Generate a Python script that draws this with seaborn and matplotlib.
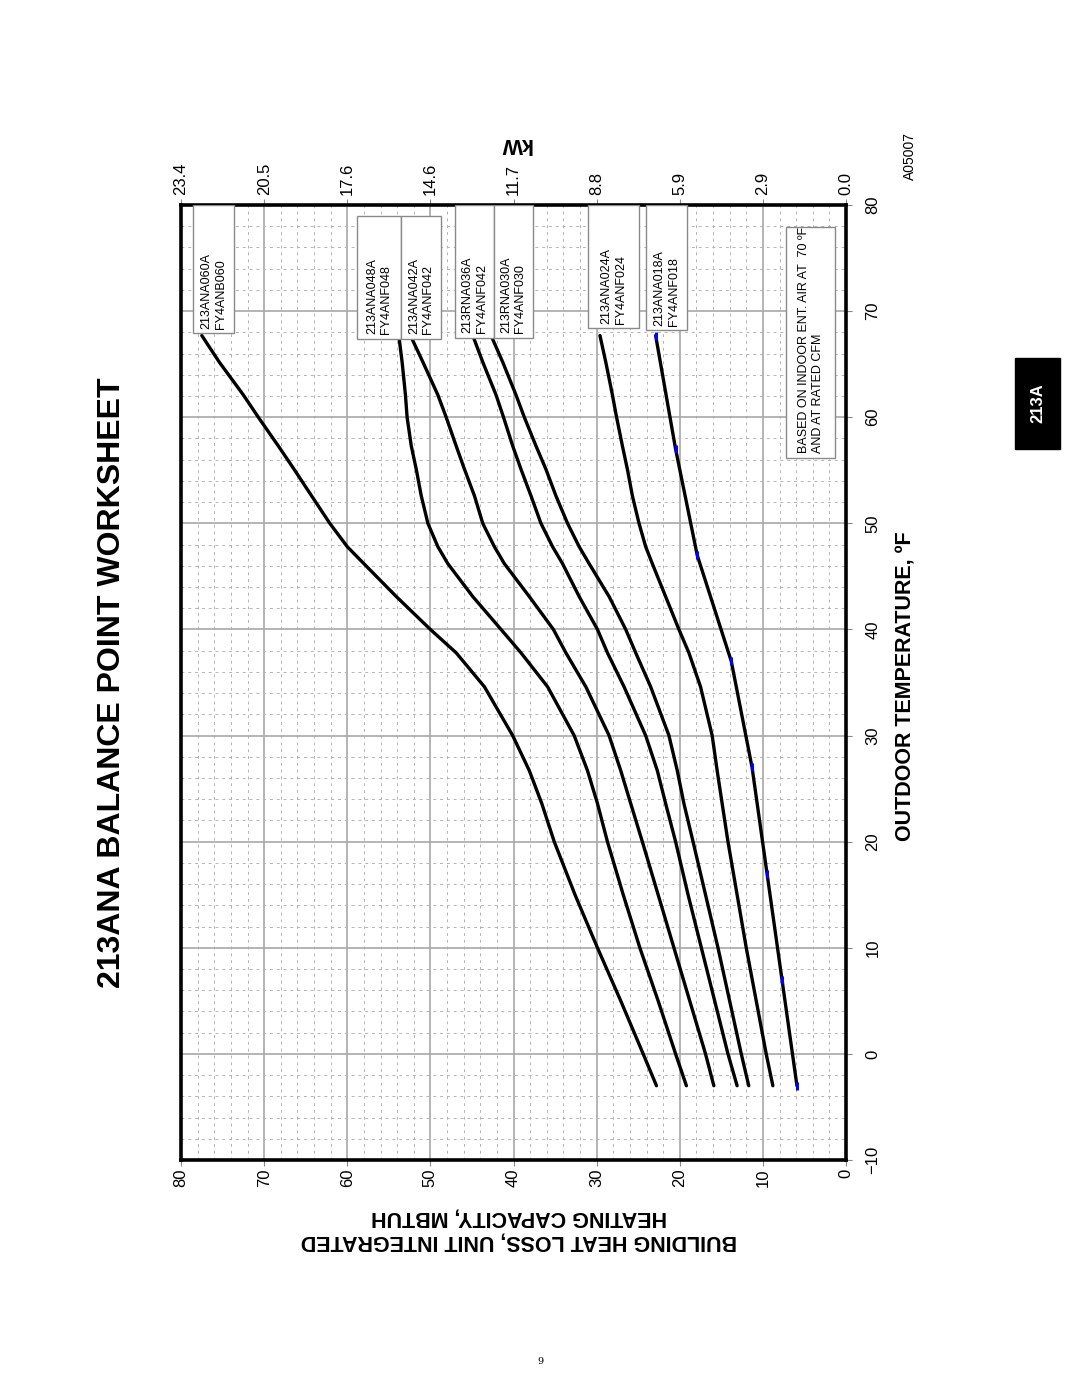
import numpy as np
import pandas as pd
import matplotlib
matplotlib.use("Agg")
import matplotlib.pyplot as plt
from matplotlib.patches import Rectangle
import seaborn as sns

# ---------------- data ----------------
temp_common = [-3, 0, 5, 10, 15, 20, 23.6, 26.7, 30, 34.6, 37.8, 40, 43.1,
               46.2, 47.8, 50, 52.6, 55.1, 57.3, 60, 62.1, 65.2, 67.7]
cap_060 = [22.8, 24.4, 27.1, 29.9, 32.6, 35.1, 36.6, 38.1, 40.1, 43.5, 46.9, 50.0,
           54.1, 58.0, 60.0, 62.1, 64.3, 66.4, 68.3, 70.7, 72.5, 75.4, 77.5]
cap_048 = [19.2, 20.5, 22.6, 24.8, 26.8, 28.7, 29.9, 31.1, 32.7, 35.9, 39.1, 41.5,
           44.9, 47.9, 49.1, 50.3, 51.1, 51.7, 52.3, 52.8, 53.0, 53.4, 53.8]
cap_042 = [15.9, 16.9, 18.8, 20.7, 22.6, 24.5, 25.9, 27.1, 28.5, 31.3, 33.7, 35.2,
           38.1, 41.1, 42.3, 43.7, 44.7, 45.9, 46.9, 48.1, 49.1, 50.9, 52.4]
cap_036 = [13.1, 14.2, 15.8, 17.4, 19.0, 20.5, 21.7, 22.7, 24.1, 26.7, 28.7, 29.9,
           32.1, 34.1, 35.3, 36.7, 37.9, 39.1, 40.1, 41.2, 42.1, 43.7, 44.9]
cap_030 = [11.7, 12.6, 14.0, 15.4, 16.9, 18.4, 19.5, 20.3, 21.3, 23.5, 25.3, 26.5,
           28.5, 30.9, 32.1, 33.5, 34.9, 36.1, 37.3, 38.7, 39.7, 41.3, 42.7]
cap_024 = [8.8, 9.6, 10.8, 12.0, 13.1, 14.2, 14.9, 15.5, 16.1, 17.5, 18.9, 20.1,
           21.7, 23.3, 24.1, 24.9, 25.7, 26.3, 26.9, 27.6, 28.1, 28.9, 29.6]
temp_018 = [-3, 7, 17, 27, 37, 47, 57, 67.7]
cap_018 = [5.9, 7.7, 9.5, 11.3, 13.8, 17.9, 20.5, 22.9]

models = ["060", "048", "042", "036", "030", "024", "018"]
box_line1 = ["213ANA060A", "213ANA048A", "213ANA042A", "213RNA036A",
             "213RNA030A", "213ANA024A", "213ANA018A"]
box_line2 = ["FY4ANB060", "FY4ANF048", "FY4ANF042", "FY4ANF042",
             "FY4ANF030", "FY4ANF024", "FY4ANF018"]

mbtuh_ticks = [0, 10, 20, 30, 40, 50, 60, 70, 80]
temp_ticks = [-10, 0, 10, 20, 30, 40, 50, 60, 70, 80]
kw_labels = ["0.0", "2.9", "5.9", "8.8", "11.7", "14.6", "17.6", "20.5", "23.4"]

title = "213ANA BALANCE POINT WORKSHEET"
note = "BASED ON INDOOR ENT. AIR AT  70 ºF\nAND AT RATED CFM"

# ---------------- build table ----------------
caps = {"060": cap_060, "048": cap_048, "042": cap_042, "036": cap_036,
        "030": cap_030, "024": cap_024}
rows = []
for m in models[:-1]:
    for t, c in zip(temp_common, caps[m]):
        rows.append((m, t, c))
for t, c in zip(temp_018, cap_018):
    rows.append(("018", t, c))
df = pd.DataFrame(rows, columns=["model", "temp", "capacity"])

# ---------------- figure ----------------
sns.set_theme(style="white")
plt.rcParams["font.family"] = ["Liberation Sans", "DejaVu Sans"]
plt.rcParams["text.color"] = "black"
plt.rcParams["axes.labelcolor"] = "black"
plt.rcParams["xtick.color"] = "black"
plt.rcParams["ytick.color"] = "black"

W, H = 1080, 1397
fig = plt.figure(figsize=(W / 100, H / 100), dpi=100)
fig.patch.set_facecolor("white")

def fx(px):
    return px / W

def fy(py):
    return 1 - py / H

ax = fig.add_axes([fx(181), fy(1160), fx(846) - fx(181), fy(205) - fy(1160)])
ax.set_facecolor("white")

sns.lineplot(data=df, x="capacity", y="temp", hue="model",
             palette={m: "black" for m in models}, sort=False,
             estimator=None, legend=False, linewidth=2.4, ax=ax, zorder=4)
ax.plot(cap_018, temp_018, ls="none", marker="|", color="blue",
        ms=6, mew=2.2, zorder=5)

ax.set_xlim(80, 0)
ax.set_ylim(-10, 80)
ax.set_xticks(mbtuh_ticks)
ax.set_xticks(np.arange(0, 81, 2), minor=True)
ax.set_yticks(temp_ticks)
ax.set_yticks(np.arange(-10, 81, 2), minor=True)
ax.set_xlabel("")
ax.set_ylabel("")

ax.grid(which="major", color="#a8a8a8", lw=1.2, ls="-", zorder=1)
ax.grid(which="minor", color="#b4b4b4", lw=0.7, ls=(0, (3, 4)), zorder=1)
ax.set_axisbelow(True)

ax.yaxis.tick_right()
ax.tick_params(axis="x", which="major", bottom=True, length=4, width=0.8,
               color="#888888", labelcolor="black", labelsize=12, pad=2,
               labelrotation=90)
ax.tick_params(axis="y", which="major", right=True, left=False, length=4,
               width=0.8, color="#888888", labelcolor="black", labelsize=12,
               pad=10, labelrotation=90)
ax.tick_params(which="minor", length=0)
for lbl in ax.get_yticklabels():
    lbl.set_va("center")

for s in ax.spines.values():
    s.set_visible(True)
    s.set_linewidth(2.6)
    s.set_color("black")

sec = ax.secondary_xaxis("top")
sec.set_xticks(mbtuh_ticks, labels=kw_labels)
sec.tick_params(axis="x", length=4, width=0.8, color="#888888",
                labelcolor="black", labelsize=12, pad=3, labelrotation=90)
sec.spines["top"].set_visible(False)

# ---------------- model boxes ----------------
box_pos = [(73.6, 78.6, 67.9, 80.0),
           (53.5, 58.8, 67.4, 79.0),
           (48.7, 53.5, 67.4, 79.0),
           (42.4, 47.0, 67.5, 80.0),
           (37.7, 42.4, 67.5, 80.0),
           (24.9, 31.0, 68.4, 80.0),
           (19.1, 24.1, 68.2, 80.0)]
for (x0, x1, y0, y1), l1, l2 in zip(box_pos, box_line1, box_line2):
    ax.add_patch(Rectangle((x0, y0), x1 - x0, y1 - y0, fc="white",
                           ec="#8a8a8a", lw=1.0, zorder=6))
    ax.text((x0 + x1) / 2, y0 + 0.4, l1 + "\n" + l2, rotation=90,
            ha="center", va="bottom", multialignment="left",
            fontsize=9, linespacing=1.25, zorder=7, color="black")

ax.add_patch(Rectangle((1.3, 56.2), 5.9, 21.7, fc="white", ec="#8a8a8a",
                       lw=1.0, zorder=6))
ax.text(4.25, 56.6, note, rotation=90, ha="center", va="bottom",
        multialignment="left", fontsize=9, linespacing=1.25, zorder=7,
        color="black")

# ---------------- page texts ----------------
fig.text(fx(112), fy(683), title, rotation=90, ha="center", va="center",
         fontsize=23, fontweight="bold", color="black")
fig.text(fx(906), fy(686), "OUTDOOR TEMPERATURE, ºF", rotation=90,
         ha="center", va="center", fontsize=15.5, fontweight="bold",
         color="black")
fig.text(fx(519), fy(1229),
         "BUILDING HEAT LOSS, UNIT INTEGRATED\nHEATING CAPACITY, MBTUH",
         rotation=180, ha="center", va="center", multialignment="center",
         fontsize=15.5, fontweight="bold", linespacing=1.25, color="black")
fig.text(fx(515), fy(143), "kW", rotation=180, ha="center", va="center",
         fontsize=15.5, fontweight="bold", color="black")
fig.text(fx(910), fy(156), "A05007", rotation=90, ha="center", va="center",
         fontsize=10, color="black")
fig.add_artist(Rectangle((fx(1015), fy(449)), fx(1060) - fx(1015),
                         fy(358) - fy(449), transform=fig.transFigure,
                         fc="black", ec="black"))
fig.text(fx(1037.5), fy(403), "213A", rotation=90, ha="center", va="center",
         fontsize=12, fontweight="bold", color="white")
fig.text(fx(540), fy(1362), "9", ha="center", va="center", fontsize=7,
         family="DejaVu Serif", color="black")

fig.savefig("out.png", dpi=100, facecolor="white")
